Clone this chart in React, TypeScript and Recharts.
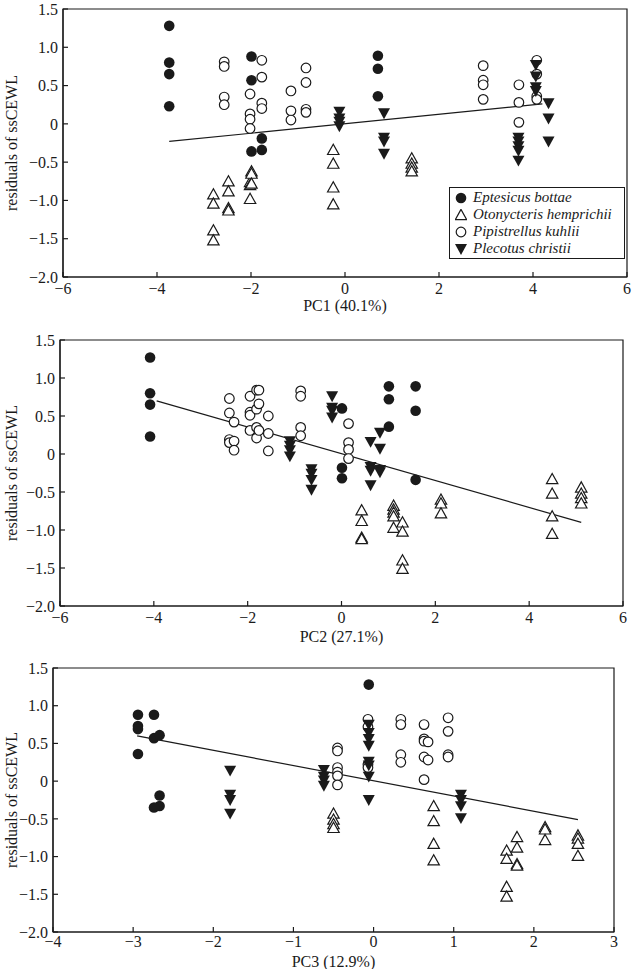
import React from 'react'
import { ScatterChart, Scatter, XAxis, YAxis, ReferenceArea, ReferenceLine, Legend, Label } from 'recharts'

// residuals of ssCEWL vs. principal components, one panel per PC
const pc1Eptesicus = [[-3.74, 1.28], [-3.74, 0.8], [-3.74, 0.65], [-3.74, 0.23], [-1.99, 0.88], [-1.99, 0.57], [-1.99, -0.36], [-1.77, -0.19], [-1.77, -0.34], [0.7, 0.89], [0.7, 0.72], [0.7, 0.36]]
const pc1Otonycteris = [[-2.8, -0.92], [-2.8, -1.04], [-2.8, -1.39], [-2.8, -1.52], [-2.48, -0.75], [-2.48, -0.88], [-2.48, -1.1], [-2.48, -1.13], [-2.02, -0.76], [-2.02, -0.8], [-2.02, -0.98], [-1.99, -0.62], [-1.99, -0.65], [-1.99, -0.78], [-0.25, -0.34], [-0.25, -0.52], [-0.25, -0.83], [-0.25, -1.05], [1.42, -0.45], [1.42, -0.52], [1.42, -0.57], [1.42, -0.62]]
const pc1Pipistrellus = [[-2.57, 0.81], [-2.57, 0.75], [-2.57, 0.35], [-2.57, 0.25], [-2.02, 0.39], [-2.02, 0.13], [-2.02, 0.06], [-2.02, -0.06], [-1.77, 0.83], [-1.77, 0.61], [-1.77, 0.27], [-1.77, 0.2], [-1.15, 0.43], [-1.15, 0.17], [-1.15, 0.05], [-0.83, 0.73], [-0.83, 0.54], [-0.83, 0.19], [-0.83, 0.15], [2.94, 0.76], [2.94, 0.57], [2.94, 0.51], [2.94, 0.32], [3.7, 0.51], [3.7, 0.28], [3.7, 0.02], [4.08, 0.83], [4.08, 0.65], [4.08, 0.36], [4.08, 0.32]]
const pc1Plecotus = [[-0.12, 0.16], [-0.12, 0.07], [-0.12, 0.03], [-0.12, -0.03], [0.83, 0.14], [0.83, -0.18], [0.83, -0.23], [0.83, -0.39], [3.69, -0.18], [3.69, -0.23], [3.69, -0.29], [3.69, -0.35], [3.69, -0.48], [4.06, 0.77], [4.06, 0.62], [4.06, 0.48], [4.06, 0.43], [4.33, 0.27], [4.33, 0.07], [4.33, -0.23]]
const pc1Fit = [[-3.74, -0.23], [4.2, 0.26]]

const pc2Eptesicus = [[-4.08, 1.27], [-4.08, 0.8], [-4.08, 0.65], [-4.08, 0.23], [0.01, 0.6], [0.01, -0.18], [0.01, -0.32], [1.01, 0.89], [1.01, 0.72], [1.01, 0.36], [1.58, 0.89], [1.58, 0.57], [1.58, -0.34]]
const pc2Otonycteris = [[0.43, -0.74], [0.43, -0.88], [0.43, -1.1], [0.43, -1.12], [1.11, -0.68], [1.11, -0.73], [1.11, -0.77], [1.11, -0.82], [1.11, -0.97], [1.3, -0.9], [1.3, -1.02], [1.3, -1.4], [1.3, -1.51], [2.12, -0.6], [2.12, -0.65], [2.12, -0.78], [4.49, -0.33], [4.49, -0.52], [4.49, -0.82], [4.49, -1.05], [5.11, -0.44], [5.11, -0.52], [5.11, -0.58], [5.11, -0.65]]
const pc2Pipistrellus = [[-2.39, 0.73], [-2.39, 0.54], [-2.39, 0.19], [-2.39, 0.15], [-2.29, 0.42], [-2.29, 0.17], [-2.29, 0.05], [-1.95, 0.76], [-1.95, 0.55], [-1.95, 0.51], [-1.95, 0.31], [-1.81, 0.84], [-1.81, 0.59], [-1.81, 0.35], [-1.81, 0.21], [-1.76, 0.84], [-1.76, 0.66], [-1.76, 0.31], [-1.56, 0.5], [-1.56, 0.27], [-1.56, 0.04], [-0.87, 0.83], [-0.87, 0.76], [-0.87, 0.35], [-0.87, 0.24], [0.15, 0.4], [0.15, 0.15], [0.15, 0.06], [0.15, -0.06]]
const pc2Plecotus = [[-1.1, 0.17], [-1.1, 0.11], [-1.1, 0.05], [-1.1, -0.03], [-0.64, -0.2], [-0.64, -0.26], [-0.64, -0.34], [-0.64, -0.47], [-0.2, 0.76], [-0.2, 0.61], [-0.2, 0.57], [-0.2, 0.48], [0.62, 0.16], [0.62, -0.17], [0.62, -0.22], [0.62, -0.41], [0.82, 0.28], [0.82, 0.07], [0.82, -0.21], [0.82, -0.24]]
const pc2Fit = [[-3.94, 0.7], [5.11, -0.9]]

const pc3Eptesicus = [[-2.94, 0.88], [-2.94, 0.73], [-2.94, 0.69], [-2.94, 0.36], [-2.74, 0.88], [-2.74, 0.57], [-2.67, 0.61], [-2.67, -0.19], [-2.67, -0.33], [-2.74, -0.35], [-0.06, 1.28]]
const pc3Otonycteris = [[-0.5, -0.43], [-0.5, -0.51], [-0.5, -0.57], [-0.5, -0.62], [0.75, -0.33], [0.75, -0.53], [0.75, -0.83], [0.75, -1.05], [1.66, -0.92], [1.66, -1.03], [1.66, -1.4], [1.66, -1.53], [1.79, -0.74], [1.79, -0.88], [1.79, -1.1], [1.79, -1.12], [2.14, -0.61], [2.14, -0.64], [2.14, -0.78], [2.55, -0.72], [2.55, -0.76], [2.55, -0.83], [2.55, -0.99]]
const pc3Pipistrellus = [[-0.45, 0.44], [-0.45, 0.4], [-0.45, 0.18], [-0.45, 0.12], [-0.45, 0.07], [-0.45, -0.05], [-0.07, 0.82], [-0.07, 0.72], [-0.07, 0.22], [-0.07, 0.18], [0.34, 0.82], [0.34, 0.75], [0.34, 0.35], [0.34, 0.25], [0.63, 0.75], [0.63, 0.56], [0.63, 0.53], [0.63, 0.32], [0.63, 0.02], [0.68, 0.52], [0.68, 0.28], [0.93, 0.84], [0.93, 0.66], [0.93, 0.35], [0.93, 0.32]]
const pc3Plecotus = [[-1.79, 0.14], [-1.79, -0.18], [-1.79, -0.25], [-1.79, -0.43], [-0.62, 0.15], [-0.62, 0.06], [-0.62, 0.01], [-0.62, -0.06], [-0.06, 0.75], [-0.06, 0.64], [-0.06, 0.56], [-0.06, 0.47], [-0.06, 0.26], [-0.06, 0.21], [-0.06, 0.06], [-0.06, -0.25], [1.09, -0.18], [1.09, -0.25], [1.09, -0.33], [1.09, -0.49]]
const pc3Fit = [[-2.95, 0.6], [2.55, -0.51]]

const yTicks = [-2, -1.5, -1, -0.5, 0, 0.5, 1, 1.5]
const pc1Ticks = [-6, -4, -2, 0, 2, 4, 6]
const pc3Ticks = [-4, -3, -2, -1, 0, 1, 2, 3]
const species = ['Eptesicus bottae', 'Otonycteris hemprichii', 'Pipistrellus kuhlii', 'Plecotus christii']

const INK = '#1a1a1a'
const FONT = '"Liberation Serif", "Times New Roman", serif'

const fmtX = (v: number) => (v < 0 ? '\u2212' : '') + Math.abs(v)
const fmtY = (v: number) => (v === 0 ? '0' : (v < 0 ? '\u2212' : '') + Math.abs(v).toFixed(1))
const toPts = (arr: number[][]) => arr.map(([x, y]) => ({ x, y }))

const FilledCircle = (p: any) => <circle cx={p.cx} cy={p.cy} r={5.3} fill={INK} />
const OpenCircle = (p: any) => <circle cx={p.cx} cy={p.cy} r={4.8} fill="#fff" stroke={INK} strokeWidth={1.2} />
const OpenTriangle = (p: any) => (
  <polygon
    points={`${p.cx},${p.cy - 5.6} ${p.cx - 5.7},${p.cy + 4.6} ${p.cx + 5.7},${p.cy + 4.6}`}
    fill="#fff"
    stroke={INK}
    strokeWidth={1.2}
  />
)
const FilledDown = (p: any) => (
  <polygon points={`${p.cx - 6},${p.cy - 4.9} ${p.cx + 6},${p.cy - 4.9} ${p.cx},${p.cy + 6}`} fill={INK} />
)
const shapes = [FilledCircle, OpenTriangle, OpenCircle, FilledDown]

const LegendBox = () => (
  <div
    style={{
      boxSizing: 'border-box',
      width: 176,
      height: 72,
      border: `1px solid ${INK}`,
      background: '#fff',
      padding: '1px 0 0 5px',
      fontFamily: FONT,
      fontStyle: 'italic',
      fontSize: 15,
      lineHeight: '17px',
      color: INK,
    }}
  >
    {species.map((name, i) => {
      const S = shapes[i]
      return (
        <div key={name} style={{ display: 'flex', alignItems: 'center', height: 17, whiteSpace: 'nowrap' }}>
          <svg width={12} height={12} style={{ marginRight: 6, flex: 'none' }}>
            <S cx={6} cy={6} />
          </svg>
          <span>{name}</span>
        </div>
      )
    })}
  </div>
)

interface PanelProps {
  top: number
  height: number
  left: number
  right: number
  plotTop: number
  axisHeight: number
  labelOffset: number
  xTickMargin: number
  domain: [number, number]
  ticks: number[]
  xLabel: string
  sets: number[][][]
  fit: number[][]
  legend?: boolean
}

const Panel = ({ top, height, left, right, plotTop, axisHeight, labelOffset, xTickMargin, domain, ticks, xLabel, sets, fit, legend }: PanelProps) => {
  const textStyle = { fontFamily: FONT, fontSize: 16, fill: INK }
  return (
    <div style={{ position: 'absolute', left: 0, top }}>
      <ScatterChart width={632} height={height} margin={{ top: plotTop, right: 632 - right, left: 0, bottom: 0 }}>
        <XAxis
          type="number"
          dataKey="x"
          domain={domain}
          ticks={ticks}
          allowDataOverflow
          height={axisHeight}
          tickSize={-5}
          tickMargin={xTickMargin}
          tickFormatter={fmtX}
          tick={textStyle}
          stroke={INK}
          axisLine={{ stroke: INK, strokeWidth: 1.2 }}
          tickLine={{ stroke: INK, strokeWidth: 1.2 }}
        >
          <Label value={xLabel} position="insideBottom" offset={labelOffset} style={textStyle} />
        </XAxis>
        <YAxis
          type="number"
          dataKey="y"
          domain={[-2, 1.5]}
          ticks={yTicks}
          allowDataOverflow
          width={left}
          tickSize={-5}
          tickMargin={10}
          tickFormatter={fmtY}
          tick={textStyle}
          stroke={INK}
          axisLine={{ stroke: INK, strokeWidth: 1.2 }}
          tickLine={{ stroke: INK, strokeWidth: 1.2 }}
        >
          <Label
            value="residuals of ssCEWL"
            angle={-90}
            position="insideLeft"
            offset={11}
            style={{ ...textStyle, textAnchor: 'middle' }}
          />
        </YAxis>
        <ReferenceArea x1={domain[0]} x2={domain[1]} y1={-2} y2={1.5} fill="none" stroke={INK} strokeWidth={1.2} />
        <ReferenceLine
          segment={fit.map(([x, y]) => ({ x, y }))}
          stroke={INK}
          strokeWidth={1.2}
        />
        {sets.map((set, i) => (
          <Scatter
            key={species[i]}
            name={species[i]}
            data={toPts(set)}
            shape={shapes[i]}
            isAnimationActive={false}
          />
        ))}
        {legend && (
          <Legend
            layout="vertical"
            align="center"
            verticalAlign="middle"
            content={() => <LegendBox />}
            wrapperStyle={{ left: 449, top: 187, width: 176, height: 72, right: 'auto', bottom: 'auto' }}
          />
        )}
      </ScatterChart>
    </div>
  )
}

export default function App() {
  return (
    <div style={{ position: 'absolute', left: 0, top: 0, width: 632, height: 969, background: '#fff' }}>
      <Panel
        top={0}
        height={322}
        left={63}
        right={627}
        plotTop={9}
        axisHeight={45}
        labelOffset={11}
        xTickMargin={11}
        domain={[-6, 6]}
        ticks={pc1Ticks}
        xLabel="PC1 (40.1%)"
        sets={[pc1Eptesicus, pc1Otonycteris, pc1Pipistrellus, pc1Plecotus]}
        fit={pc1Fit}
        legend
      />
      <Panel
        top={322}
        height={328}
        left={60}
        right={623}
        plotTop={18}
        axisHeight={44}
        labelOffset={8}
        xTickMargin={11}
        domain={[-6, 6]}
        ticks={pc1Ticks}
        xLabel="PC2 (27.1%)"
        sets={[pc2Eptesicus, pc2Otonycteris, pc2Pipistrellus, pc2Plecotus]}
        fit={pc2Fit}
      />
      <Panel
        top={650}
        height={319}
        left={53}
        right={614}
        plotTop={18}
        axisHeight={37}
        labelOffset={2}
        xTickMargin={9}
        domain={[-4, 3]}
        ticks={pc3Ticks}
        xLabel="PC3 (12.9%)"
        sets={[pc3Eptesicus, pc3Otonycteris, pc3Pipistrellus, pc3Plecotus]}
        fit={pc3Fit}
      />
    </div>
  )
}
